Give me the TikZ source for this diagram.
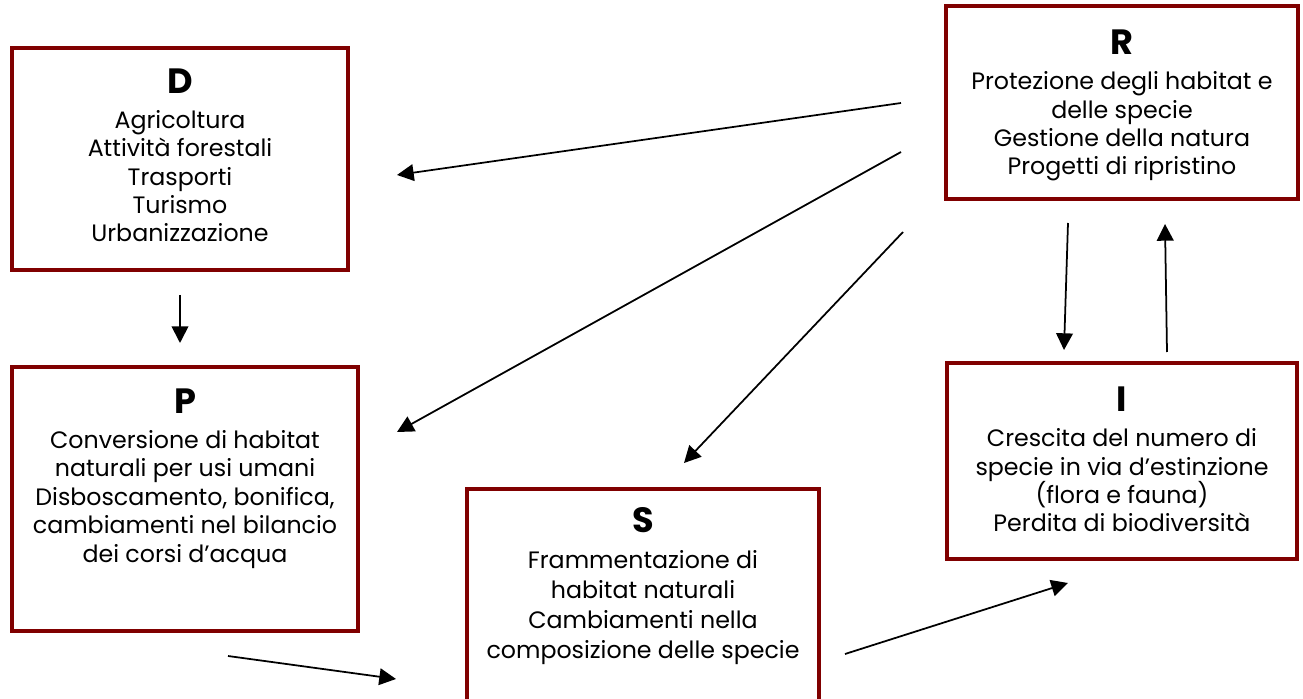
\documentclass[tikz,border=0pt]{standalone}
\usepackage{fontspec}
\setmainfont{Poppins}
\usetikzlibrary{arrows.meta}
\definecolor{bordo}{RGB}{128,0,0}
\tikzset{
  riquadro/.style={draw=bordo,line width=2.3pt,fill=white,inner sep=0pt},
  testo/.style={align=center,inner sep=0pt,anchor=base,font=\fontsize{13.5}{16.2}\selectfont},
  freccia/.style={line width=1pt,-{Triangle[length=9.5pt,width=9.5pt]}}
}
\newcommand{\titolo}[1]{{\fontsize{20}{20}\selectfont\bfseries #1}\\[3.7pt]}

\begin{document}
\begin{tikzpicture}[x=0.02cm,y=-0.02cm]
\clip (0,0) rectangle (1303,699);
\useasboundingbox (0,0) rectangle (1303,699);
% riquadri
\node (D) at (180,159) [riquadro,minimum width=6.72cm,minimum height=4.44cm]{};
\node (R) at (1122,102.5) [riquadro,minimum width=7.04cm,minimum height=3.86cm]{};
\node (P) at (185,499) [riquadro,minimum width=6.92cm,minimum height=5.28cm]{};
\node (S) at (643,614.5) [riquadro,minimum width=7.04cm,minimum height=5.02cm]{};
\node (I) at (1122,461) [riquadro,minimum width=7.0cm,minimum height=3.92cm]{};
% testi (posizionati sulla linea di base dell'ultima riga)
\node (Dtxt) at (180,242) [testo]{\titolo{D}Agricoltura\\Attività forestali\\Trasporti\\Turismo\\Urbanizzazione};
\node (Rtxt) at (1122,175) [testo]{\titolo{R}Protezione degli habitat e\\delle specie\\Gestione della natura\\Progetti di ripristino};
\node (Ptxt) at (185,562) [testo]{\titolo{P}Conversione di habitat\\naturali per usi umani\\Disboscamento, bonifica,\\cambiamenti nel bilancio\\dei corsi d’acqua};
\node (Stxt) at (643,658) [testo,font=\fontsize{13.5}{17}\selectfont]{\titolo{S}Frammentazione di\\habitat naturali\\Cambiamenti nella\\composizione delle specie};
\node (Itxt) at (1122,532) [testo]{\titolo{I}Crescita del numero di\\specie in via d’estinzione\\(flora e fauna)\\Perdita di biodiversità};
% estremi delle frecce
\coordinate (rd1) at (901,103); \coordinate (rd2) at (397,175);
\coordinate (rp1) at (901,152); \coordinate (rp2) at (397,432);
\coordinate (rs1) at (903,232); \coordinate (rs2) at (684,463);
\coordinate (dp1) at (180,295); \coordinate (dp2) at (180,343);
\coordinate (ri1) at (1068,223); \coordinate (ri2) at (1064,350);
\coordinate (ir1) at (1167,352); \coordinate (ir2) at (1165,224);
\coordinate (ps1) at (228,656); \coordinate (ps2) at (396,679);
\coordinate (si1) at (845,654); \coordinate (si2) at (1068,583);
% frecce
\draw [freccia](rd1)--(rd2);
\draw [freccia](rp1)--(rp2);
\draw [freccia](rs1)--(rs2);
\draw [freccia](dp1)--(dp2);
\draw [freccia](ri1)--(ri2);
\draw [freccia](ir1)--(ir2);
\draw [freccia](ps1)--(ps2);
\draw [freccia](si1)--(si2);
\end{tikzpicture}
\end{document}
